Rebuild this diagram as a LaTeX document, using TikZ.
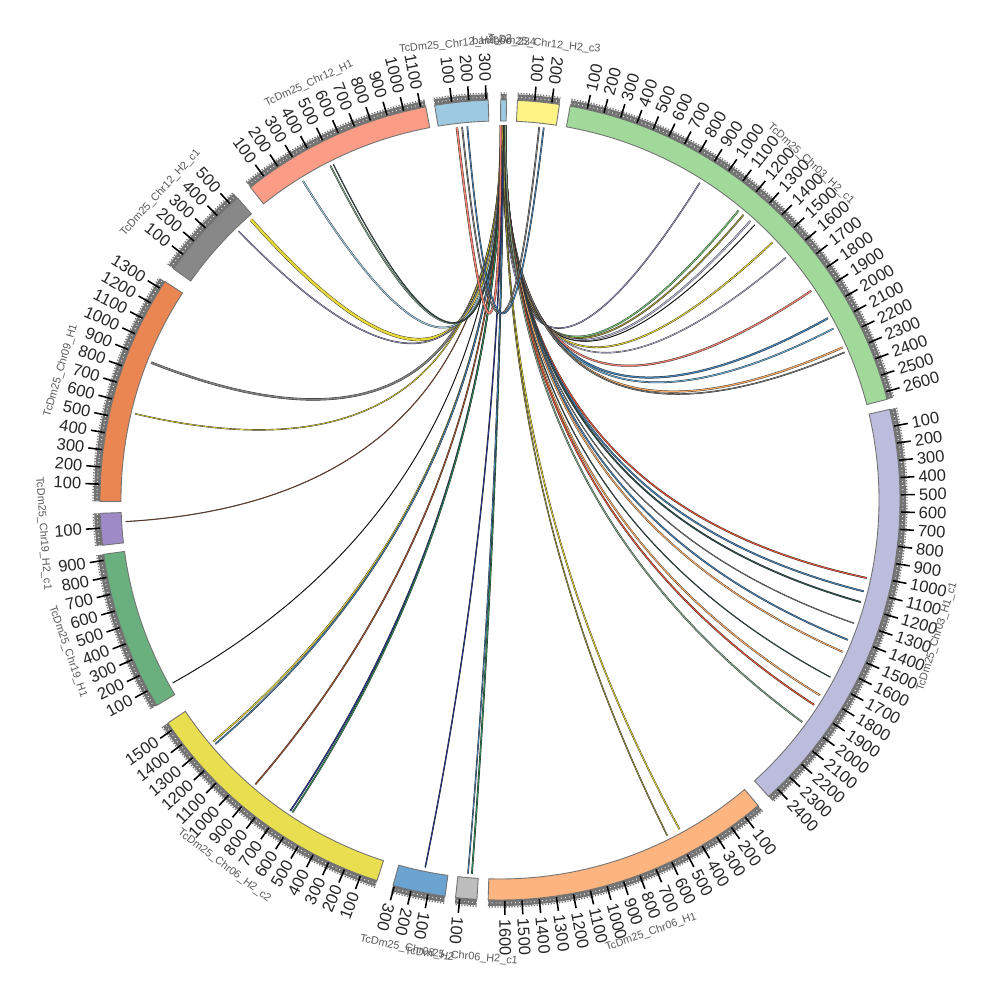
\documentclass[tikz,border=0pt]{standalone}
\usepackage{fontspec}
\setmainfont{Liberation Sans}
\usepackage{tikz}
\definecolor{cTiny}{HTML}{9ECAE1}
\definecolor{cYelT}{HTML}{FFF385}
\definecolor{cGreT}{HTML}{A1D99B}
\definecolor{cLav}{HTML}{BCBDDC}
\definecolor{cPea}{HTML}{FDB47E}
\definecolor{cGrS}{HTML}{BDBDBD}
\definecolor{cSte}{HTML}{6BA3D1}
\definecolor{cYeB}{HTML}{E8DE50}
\definecolor{cGrL}{HTML}{69B07E}
\definecolor{cPur}{HTML}{9D8AC7}
\definecolor{cOra}{HTML}{E98651}
\definecolor{cDGr}{HTML}{888888}
\definecolor{cSal}{HTML}{FA9C86}
\definecolor{cLBl}{HTML}{9ECAE1}
\definecolor{lkPur}{HTML}{9E9AC8}
\definecolor{lkGre}{HTML}{74C476}
\definecolor{lkOli}{HTML}{A09A3C}
\definecolor{lkLav}{HTML}{BCBDDC}
\definecolor{lkYel}{HTML}{E6D83A}
\definecolor{lkSal}{HTML}{F08070}
\definecolor{lkSteel}{HTML}{4682B4}
\definecolor{lkBlue}{HTML}{6BAED6}
\definecolor{lkOra}{HTML}{FDAE6B}
\definecolor{lkRed}{HTML}{E6553A}
\definecolor{lkDark}{HTML}{2F4F4F}
\definecolor{lkGreG}{HTML}{7FA58A}
\definecolor{lkGreD}{HTML}{2E8B57}
\definecolor{lkNavy}{HTML}{253494}
\definecolor{lkBrown}{HTML}{A0522D}
\definecolor{lkLB}{HTML}{9ECAE1}

\begin{document}
\begin{tikzpicture}[x=0.01cm, y=0.01cm,
  band/.style={draw=black!55, line width=0.25pt},
  ringfill/.style={fill=black!55},
  tickline/.style={draw=black, line width=0.45pt},
  ticklab/.style={font=\fontsize{4.7}{5}\selectfont, text=black!85, inner sep=0.4pt},
  seglab/.style={font=\fontsize{3.1}{3.5}\selectfont, text=black!65, inner sep=0pt},
  link/.style={draw=black!85, line width=0.11pt}]

  \fill[white] (-500,-500) rectangle (500,500);
  \useasboundingbox (-500,-500) rectangle (500,500);

  % links
  \foreach \la/\lb/\lc/\lw [count=\li] in {
      0.30/32.2/lkPur/0.2, 0.35/39.5/lkGre/0.3, 0.40/40.5/lkOli/0.28,
      0.45/41.9/lkLav/0.3, 0.50/42.8/black/0.05, 0.55/46.6/lkYel/0.28,
      0.60/49.7/lkLav/0.18, 0.62/56.1/lkSal/0.35, 0.65/61.0/lkSteel/0.35,
      0.68/62.8/lkBlue/0.28, 0.70/66.0/lkOra/0.35, 0.72/66.8/gray/0.2,
      0.75/102.0/lkRed/0.3, 0.77/104.1/lkSteel/0.3, 0.79/105.8/lkDark/0.28,
      0.80/109.2/gray/0.12, 0.82/111.9/lkSteel/0.28, 0.84/113.9/lkOra/0.28,
      0.85/118.2/lkDark/0.12, 0.86/121.4/lkOra/0.28, 0.87/123.1/lkRed/0.3,
      0.88/126.3/lkGreG/0.28, 0.60/151.4/lkYel/0.25, 0.62/153.5/lkOli/0.2,
      0.55/184.3/lkGreD/0.28, 0.57/184.9/lkSteel/0.2, 0.50/191.5/lkNavy/0.2,
      0.45/229.9/lkYel/0.28, 0.44/229.4/lkSteel/0.25, 0.42/220.7/lkBrown/0.25,
      0.40/214.0/lkNavy/0.25, 0.39/213.6/lkGreD/0.25, 0.35/240.8/black/0.05,
      0.32/266.7/lkBrown/0.08, 0.28/291.5/gray/0.45, 0.26/283.3/lkYel/0.18,
      0.22/318.4/lkYel/0.7, 0.20/315.8/lkPur/0.2, 0.18/328.3/lkLB/0.28,
      0.16/333.1/lkGreG/0.25, 0.14/333.6/lkDark/0.12, 353.4/0.12/lkSal/0.45,
      6.0/354.2/gray/0.25, 6.7/355.0/lkSteel/0.25} {
    \pgfmathsetmacro\tla{90-\la}
    \pgfmathsetmacro\tlb{90-\lb}
    \coordinate (la\li) at (\tla:375);
    \coordinate (lb\li) at (\tlb:375);
    \draw[link, double=\lc, double distance=\lw pt] (la\li) .. controls (\tla:125) and (\tlb:125) .. (lb\li);
  }

  % sectors, ticks and names
  \foreach \sa/\len/\col/\nm [count=\si] in {
      0.10/34/cTiny/{bamboo\_234},
      2.50/245/cYelT/{TcDm25\_Chr12\_H2\_c3},
      10.1/2644/cGreT/{TcDm25\_Chr03\_H2\_c1},
      76.9/2466/cLav/{TcDm25\_Chr03\_H1\_c1},
      139.8/1696/cPea/{TcDm25\_Chr06\_H1},
      183.3/125/cGrS/{TcDm25\_Chr06\_H2\_c1},
      187.9/308/cSte/{TcDm25\_Chr08\_H2},
      197.9/1547/cYeB/{TcDm25\_Chr06\_H2\_c2},
      239.1/935/cGrL/{TcDm25\_Chr19\_H1},
      263.5/186/cPur/{TcDm25\_Chr19\_H2\_c1},
      269.8/1348/cOra/{TcDm25\_Chr09\_H1},
      305.3/555/cDGr/{TcDm25\_Chr12\_H2\_c1},
      321.4/1130/cSal/{TcDm25\_Chr12\_H1},
      350.6/312/cLBl/{TcDm25\_Chr12\_H2\_c2}} {
    \pgfmathsetmacro\en{\sa+\len*0.0247}
    \pgfmathsetmacro\ta{90-\sa}
    \pgfmathsetmacro\tb{90-\en}
    \fill[ringfill] (\ta:400) arc[start angle=\ta, end angle=\tb, radius=400]
      -- (\tb:406) arc[start angle=\tb, end angle=\ta, radius=406] -- cycle;
    \draw[white, line width=0.3pt, dash pattern=on 0.2pt off 0.9pt]
      (\ta:403) arc[start angle=\ta, end angle=\tb, radius=403];
    \draw[black!55, line width=0.4pt, dash pattern=on 0.35pt off 0.45pt]
      (\ta:407) arc[start angle=\ta, end angle=\tb, radius=407];
    \draw[band, fill=\col] (\ta:379) arc[start angle=\ta, end angle=\tb, radius=379]
      -- (\tb:400) arc[start angle=\tb, end angle=\ta, radius=400] -- cycle;
    \pgfmathtruncatemacro\nt{\len/100}
    \ifnum\nt>0
      \foreach \kk in {1,...,\nt} {
        \pgfmathsetmacro\ph{\sa+\kk*2.47}
        \pgfmathsetmacro\tk{90-\ph}
        \pgfmathtruncatemacro\tv{\kk*100}
        \pgfmathtruncatemacro\inw{(\ph>197 || \ph<10) ? 1 : 0}
        \draw[tickline] (\tk:401) -- (\tk:415);
        \ifnum\inw=1
          \node[ticklab, anchor=east, rotate=\tk+180] (t\si-\kk) at (\tk:417) {\tv};
        \else
          \node[ticklab, anchor=west, rotate=\tk] (t\si-\kk) at (\tk:417) {\tv};
        \fi
      }
    \fi
    \pgfmathsetmacro\tm{90-(\sa+\en)/2}
    \pgfmathsetmacro\tn{mod(\tm+720,360)}
    \pgfmathsetmacro\rr{(\tn<180) ? \tn-90 : \tn+90}
    \node[seglab, rotate=\rr] (lab\si) at (\tm:458) {\nm};
  }
\end{tikzpicture}
\end{document}
